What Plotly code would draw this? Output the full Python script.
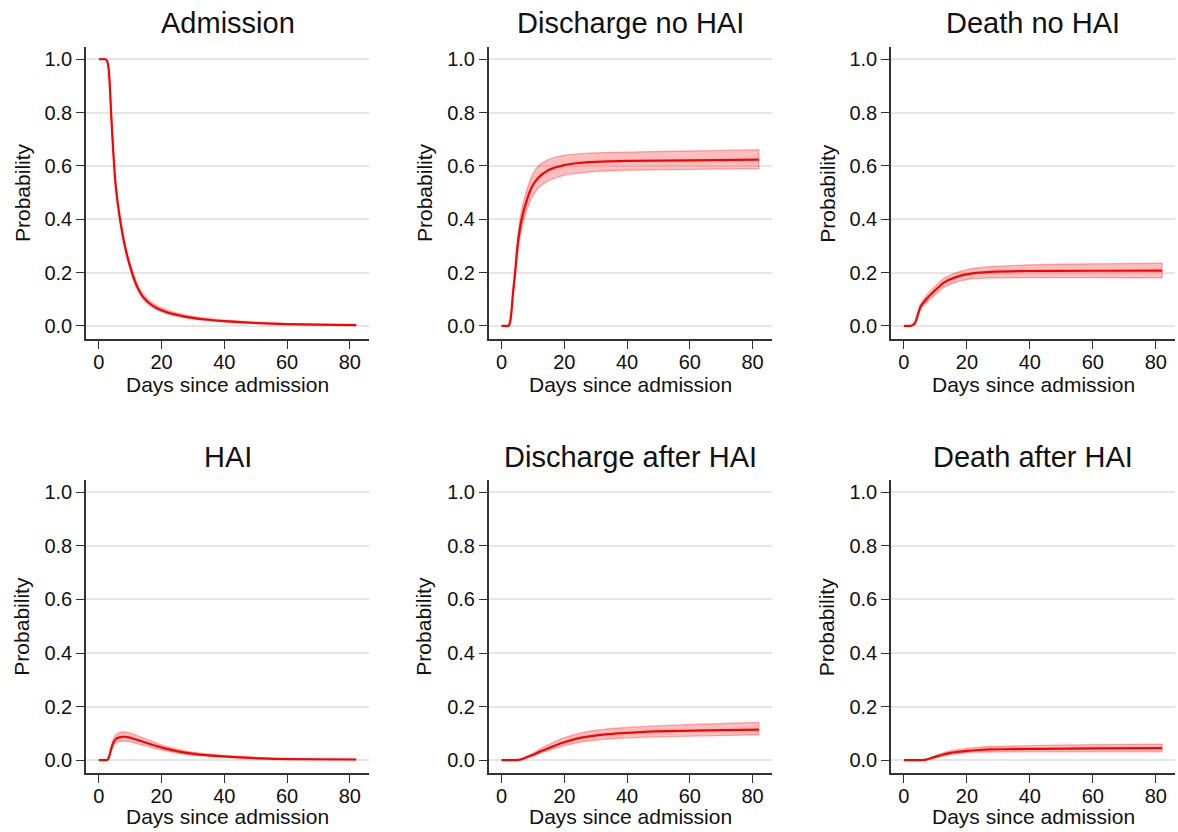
import plotly.graph_objects as go

# ---------------- data ----------------
titles = ["Admission", "Discharge no HAI", "Death no HAI",
          "HAI", "Discharge after HAI", "Death after HAI"]

days_adm = [0, 1, 2, 2.5, 3, 3.4, 3.9, 4.5, 5.0, 5.5, 6.6, 7.7, 8.7, 10.3, 11.9, 14, 17.2, 21.5, 27.8, 34, 40, 50, 60, 70, 82]
est_adm = [1.0, 1.0, 1.0, 0.997, 0.975, 0.92, 0.80, 0.67, 0.58, 0.51, 0.41, 0.334, 0.278, 0.209, 0.155, 0.11, 0.075, 0.052, 0.034, 0.024, 0.018, 0.011, 0.007, 0.005, 0.003]
hi_adm = [1.0, 1.0, 1.0, 0.998, 0.978, 0.925, 0.808, 0.68, 0.59, 0.522, 0.423, 0.347, 0.291, 0.222, 0.167, 0.121, 0.085, 0.06, 0.04, 0.029, 0.022, 0.014, 0.009, 0.006, 0.004]
lo_adm = [1.0, 1.0, 1.0, 0.996, 0.972, 0.915, 0.793, 0.662, 0.572, 0.502, 0.402, 0.326, 0.270, 0.201, 0.147, 0.103, 0.069, 0.047, 0.030, 0.021, 0.015, 0.009, 0.006, 0.004, 0.002]

days_dis = [0, 1, 2, 2.3, 2.8, 3.2, 3.7, 4.3, 4.8, 5.3, 6.4, 8.0, 9.6, 11.7, 14.9, 20, 27.7, 40, 60, 82]
est_dis = [0, 0, 0, 0.001, 0.02, 0.06, 0.13, 0.197, 0.265, 0.32, 0.40, 0.47, 0.52, 0.556, 0.584, 0.603, 0.614, 0.619, 0.621, 0.624]
hi_dis = [0, 0, 0, 0.001, 0.022, 0.068, 0.145, 0.215, 0.29, 0.35, 0.435, 0.508, 0.56, 0.600, 0.624, 0.64, 0.648, 0.652, 0.656, 0.661]
lo_dis = [0, 0, 0, 0.001, 0.018, 0.052, 0.115, 0.18, 0.24, 0.29, 0.365, 0.432, 0.48, 0.517, 0.545, 0.565, 0.577, 0.584, 0.587, 0.59]

days_dth = [0, 1, 2, 2.3, 3.0, 3.7, 4.5, 5.3, 6.9, 9.5, 12.7, 17, 21.2, 27.5, 40, 60, 82]
est_dth = [0, 0, 0, 0.001, 0.005, 0.016, 0.045, 0.0725, 0.0975, 0.129, 0.1625, 0.185, 0.196, 0.2025, 0.206, 0.207, 0.2075]
hi_dth = [0, 0, 0, 0.001, 0.006, 0.019, 0.052, 0.082, 0.11, 0.144, 0.179, 0.201, 0.214, 0.222, 0.229, 0.233, 0.235]
lo_dth = [0, 0, 0, 0.001, 0.004, 0.013, 0.038, 0.063, 0.085, 0.1125, 0.145, 0.166, 0.176, 0.180, 0.181, 0.181, 0.18]

days_hai = [0, 1, 2, 2.5, 3.0, 3.4, 4.0, 4.5, 5.5, 6.8, 8.2, 9.5, 10.8, 13, 15.1, 20.4, 27.8, 38.5, 54, 68, 82]
est_hai = [0, 0, 0, 0.0005, 0.006, 0.019, 0.045, 0.0625, 0.08, 0.086, 0.0875, 0.085, 0.081, 0.073, 0.065, 0.046, 0.0275, 0.015, 0.006, 0.0035, 0.0025]
hi_hai = [0, 0, 0, 0.0006, 0.007, 0.023, 0.054, 0.075, 0.096, 0.104, 0.106, 0.103, 0.098, 0.088, 0.079, 0.055, 0.034, 0.019, 0.008, 0.005, 0.0035]
lo_hai = [0, 0, 0, 0.0004, 0.005, 0.016, 0.037, 0.052, 0.066, 0.07, 0.071, 0.069, 0.066, 0.059, 0.053, 0.0375, 0.022, 0.012, 0.0045, 0.0025, 0.0015]

days_dah = [0, 2, 4, 5.1, 6.5, 7.8, 10, 12, 14.5, 17.3, 20, 22.6, 25, 28, 33, 38.6, 49, 65, 82]
est_dah = [0, 0, 0, 0.001, 0.004, 0.01, 0.02, 0.031, 0.043, 0.056, 0.067, 0.076, 0.083, 0.089, 0.096, 0.101, 0.1075, 0.111, 0.114]
hi_dah = [0, 0, 0, 0.001, 0.005, 0.013, 0.026, 0.04, 0.055, 0.0715, 0.084, 0.094, 0.101, 0.108, 0.116, 0.121, 0.128, 0.135, 0.141]
lo_dah = [0, 0, 0, 0.001, 0.003, 0.008, 0.015, 0.024, 0.034, 0.045, 0.054, 0.061, 0.067, 0.072, 0.078, 0.082, 0.087, 0.091, 0.095]

days_ddh = [0, 2, 4, 6.0, 7.0, 8.5, 10.6, 12.5, 14.8, 17, 20, 23.5, 27.5, 35, 43, 60, 82]
est_ddh = [0, 0, 0, 0.0005, 0.002, 0.007, 0.015, 0.021, 0.0275, 0.031, 0.035, 0.038, 0.04, 0.0415, 0.0425, 0.044, 0.045]
hi_ddh = [0, 0, 0, 0.0006, 0.003, 0.009, 0.019, 0.027, 0.035, 0.039, 0.044, 0.048, 0.051, 0.053, 0.055, 0.058, 0.06]
lo_ddh = [0, 0, 0, 0.0004, 0.0015, 0.005, 0.011, 0.016, 0.021, 0.024, 0.029, 0.03, 0.0305, 0.031, 0.031, 0.031, 0.031]

y_ticks = [0.0, 0.2, 0.4, 0.6, 0.8, 1.0]
y_ticktext = ["0.0", "0.2", "0.4", "0.6", "0.8", "1.0"]
x_ticks = [0, 20, 40, 60, 80]
x_title = "Days since admission"
y_title = "Probability"

panels = [
    (days_adm, est_adm, lo_adm, hi_adm),
    (days_dis, est_dis, lo_dis, hi_dis),
    (days_dth, est_dth, lo_dth, hi_dth),
    (days_hai, est_hai, lo_hai, hi_hai),
    (days_dah, est_dah, lo_dah, hi_dah),
    (days_ddh, est_ddh, lo_ddh, hi_ddh),
]

# ---------------- layout geometry (pixels) ----------------
W, H = 1178, 832
col_px = [(86, 369), (488.7, 771.7), (891, 1175)]
row_px = [(47, 339), (480, 773.3)]
title_y_px = [23.0, 456.5]
xtitle_y_px = [384.5, 816.5]
ytitle_x_px = [22, 424, 826.7]

FONT = "Arial, 'Liberation Sans', Helvetica, sans-serif"
AX = "#333333"
TXT = "#111111"
BAND_LINE = "rgba(255,0,0,0.3)"
BAND_FILL = "rgba(255,0,0,0.25)"

fig = go.Figure()
layout = dict(
    width=W, height=H,
    margin=dict(l=0, r=0, t=0, b=0),
    paper_bgcolor="white", plot_bgcolor="white",
    showlegend=False,
    font=dict(family=FONT, color=TXT, size=20),
    annotations=[],
)

for i, (d, e, lo, hi) in enumerate(panels):
    r, c = divmod(i, 3)
    n = i + 1
    xa = "x" if n == 1 else f"x{n}"
    ya = "y" if n == 1 else f"y{n}"
    # lower CI edge
    fig.add_trace(go.Scatter(
        x=d, y=lo, mode="lines",
        line=dict(color=BAND_LINE, width=1.3, shape="spline", smoothing=0.6),
        hoverinfo="skip", xaxis=xa, yaxis=ya))
    # upper CI edge, filled down to the lower edge
    fig.add_trace(go.Scatter(
        x=d, y=hi, mode="lines", fill="tonexty", fillcolor=BAND_FILL,
        line=dict(color=BAND_LINE, width=1.3, shape="spline", smoothing=0.6),
        hoverinfo="skip", xaxis=xa, yaxis=ya))
    # closing edge of the band at the last time point
    fig.add_trace(go.Scatter(
        x=[d[-1], d[-1]], y=[lo[-1], hi[-1]], mode="lines",
        line=dict(color=BAND_LINE, width=1.3),
        hoverinfo="skip", xaxis=xa, yaxis=ya))
    # point estimate
    fig.add_trace(go.Scatter(
        x=d, y=e, mode="lines",
        line=dict(color="#ff0000", width=2.2, shape="spline", smoothing=0.6),
        xaxis=xa, yaxis=ya))

    x0, x1 = col_px[c]
    y0, y1 = row_px[r]
    xkey = "xaxis" if n == 1 else f"xaxis{n}"
    ykey = "yaxis" if n == 1 else f"yaxis{n}"
    layout[xkey] = dict(
        domain=[x0 / W, x1 / W], anchor=ya, range=[-4.1, 86.1],
        tickmode="array", tickvals=x_ticks, ticks="outside", ticklen=8,
        tickwidth=1.2, tickcolor=AX, showline=True, linecolor=AX, linewidth=1.5,
        showgrid=False, zeroline=False, ticklabelstandoff=-4,
        tickfont=dict(size=20, family=FONT, color=TXT))
    layout[ykey] = dict(
        domain=[1 - y1 / H, 1 - y0 / H], anchor=xa, range=[-0.049, 1.046],
        tickmode="array", tickvals=y_ticks, ticktext=y_ticktext, ticks="outside",
        ticklen=8, tickwidth=1.2, tickcolor=AX, showline=True, linecolor=AX,
        linewidth=1.5, showgrid=True, gridcolor="#e6e6e6", gridwidth=1.5,
        zeroline=False, tickfont=dict(size=20, family=FONT, color=TXT))

    cx = (x0 + x1) / 2 / W
    layout["annotations"].append(dict(
        text=titles[i], x=cx, y=1 - title_y_px[r] / H, xref="paper", yref="paper",
        xanchor="center", yanchor="middle", showarrow=False,
        font=dict(size=29, family=FONT, color=TXT)))
    layout["annotations"].append(dict(
        text=x_title, x=cx, y=1 - xtitle_y_px[r] / H, xref="paper", yref="paper",
        xanchor="center", yanchor="middle", showarrow=False,
        font=dict(size=21, family=FONT, color=TXT)))
    layout["annotations"].append(dict(
        text=y_title, x=ytitle_x_px[c] / W, y=1 - (y0 + y1) / 2 / H,
        xref="paper", yref="paper", xanchor="center", yanchor="middle",
        textangle=-90, showarrow=False,
        font=dict(size=21, family=FONT, color=TXT)))

fig.update_layout(**layout)
fig.write_html("out.html")
